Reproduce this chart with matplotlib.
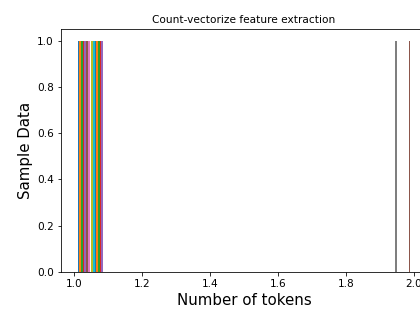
import numpy as np
from matplotlib import pyplot as plt

# number of tokens per sample (one sample per column -> 16 datasets)
num_tokens = [1, 1, 1, 1, 1, 1, 1, 2, 1, 1, 1, 1, 1, 1, 1, 2]

fig = plt.figure(figsize=(420/72, 311/72), dpi=72)
ax = fig.add_axes([0.1452, 0.1264, 0.8714, 0.7788])

ax.hist(np.array([num_tokens]))
ax.set_title('Count-vectorize feature extraction', fontsize=10.5)
ax.set_xlabel('Number of tokens', fontsize=15)
ax.set_ylabel('Sample Data', fontsize=15)
ax.tick_params(labelsize=10.5)

fig.savefig('out.png', dpi=72)
